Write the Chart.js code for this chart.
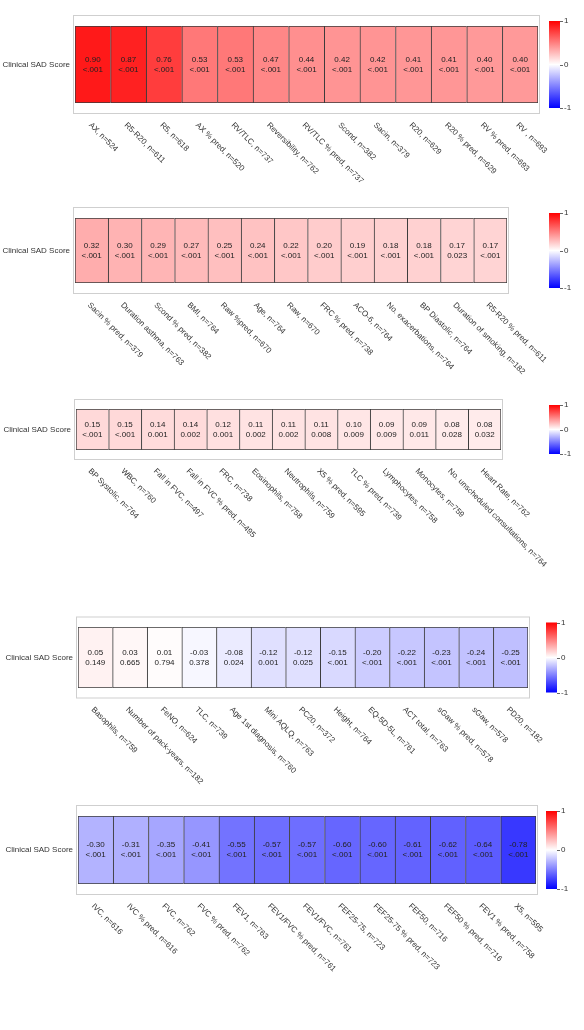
<!DOCTYPE html>
<html>
<head>
<meta charset="utf-8">
<script src="https://cdn.jsdelivr.net/npm/chart.js@4/dist/chart.umd.min.js"></script>
<style>
  html, body { margin: 0; padding: 0; background: #ffffff; }
  #wrap { position: relative; width: 584px; height: 1030px; overflow: hidden; }
  canvas { position: absolute; left: 0; }
</style>
</head>
<body>
<div id="wrap">
  <canvas id="c1" width="584" height="200" style="top:0px"></canvas>
  <canvas id="c2" width="584" height="190" style="top:200px"></canvas>
  <canvas id="c3" width="584" height="210" style="top:390px"></canvas>
  <canvas id="c4" width="584" height="200" style="top:600px"></canvas>
  <canvas id="c5" width="584" height="230" style="top:800px"></canvas>
</div>
<script>
// ---------------- DATA ----------------
const rowLabel = "Clinical SAD Score";
const colorbarTicks = [1, 0, -1];

const p1Labels = ["AX, n=524", "R5-R20, n=611", "R5, n=618", "AX % pred, n=520", "RV/TLC, n=737", "Reversibility, n=762", "RV/TLC % pred, n=737", "Scond, n=382", "Sacin, n=379", "R20, n=629", "R20 % pred, n=629", "RV % pred, n=693", "RV , n=693"];
const p1Values = [0.90, 0.87, 0.76, 0.53, 0.53, 0.47, 0.44, 0.42, 0.42, 0.41, 0.41, 0.40, 0.40];
const p1P = ["<.001", "<.001", "<.001", "<.001", "<.001", "<.001", "<.001", "<.001", "<.001", "<.001", "<.001", "<.001", "<.001"];

const p2Labels = ["Sacin % pred, n=379", "Duration asthma, n=763", "Scond % pred, n=382", "BMI, n=764", "Raw %pred, n=670", "Age, n=764", "Raw, n=670", "FRC % pred, n=738", "ACO-6, n=764", "No. exacerbations, n=764", "BP Diastolic, n=764", "Duration of smoking, n=182", "R5-R20 % pred, n=611"];
const p2Values = [0.32, 0.30, 0.29, 0.27, 0.25, 0.24, 0.22, 0.20, 0.19, 0.18, 0.18, 0.17, 0.17];
const p2P = ["<.001", "<.001", "<.001", "<.001", "<.001", "<.001", "<.001", "<.001", "<.001", "<.001", "<.001", "0.023", "<.001"];

const p3Labels = ["BP Systolic, n=764", "WBC, n=760", "Fall in FVC, n=497", "Fall in FVC % pred, n=495", "FRC, n=738", "Eosinophils, n=758", "Neutrophils, n=759", "X5 % pred, n=595", "TLC % pred, n=739", "Lymphocytes, n=758", "Monocytes, n=759", "No. unscheduled consultations, n=764", "Heart Rate, n=762"];
const p3Values = [0.15, 0.15, 0.14, 0.14, 0.12, 0.11, 0.11, 0.11, 0.10, 0.09, 0.09, 0.08, 0.08];
const p3P = ["<.001", "<.001", "0.001", "0.002", "0.001", "0.002", "0.002", "0.008", "0.009", "0.009", "0.011", "0.028", "0.032"];

const p4Labels = ["Basophils, n=759", "Number of pack-years, n=182", "FeNO, n=624", "TLC, n=739", "Age 1st diagnosis, n=760", "Mini AQLQ, n=763", "PC20, n=372", "Height, n=764", "EQ-5D-5L, n=761", "ACT total, n=763", "sGaw % pred, n=578", "sGaw, n=578", "PD20, n=182"];
const p4Values = [0.05, 0.03, 0.01, -0.03, -0.08, -0.12, -0.12, -0.15, -0.20, -0.22, -0.23, -0.24, -0.25];
const p4P = ["0.149", "0.665", "0.794", "0.378", "0.024", "0.001", "0.025", "<.001", "<.001", "<.001", "<.001", "<.001", "<.001"];

const p5Labels = ["IVC, n=616", "IVC % pred, n=616", "FVC, n=762", "FVC % pred, n=762", "FEV1, n=763", "FEV1/FVC % pred, n=761", "FEV1/FVC, n=761", "FEF25-75, n=723", "FEF25-75 % pred, n=723", "FEF50, n=716", "FEF50 % pred, n=716", "FEV1 % pred, n=758", "X5, n=595"];
const p5Values = [-0.30, -0.31, -0.35, -0.41, -0.55, -0.57, -0.57, -0.60, -0.60, -0.61, -0.62, -0.64, -0.78];
const p5P = ["<.001", "<.001", "<.001", "<.001", "<.001", "<.001", "<.001", "<.001", "<.001", "<.001", "<.001", "<.001", "<.001"];

// ---------------- LAYOUT (canvas-local pixel geometry) ----------------
const panels = [
  { id: "c1", labels: p1Labels, values: p1Values, p: p1P, h: 200, left: 75, right: 538, top: 26, bottom: 103, padV: 11, cbX: 549 },
  { id: "c2", labels: p2Labels, values: p2Values, p: p2P, h: 190, left: 75, right: 507, top: 18, bottom: 83, padV: 11, cbX: 549 },
  { id: "c3", labels: p3Labels, values: p3Values, p: p3P, h: 210, left: 76, right: 501, top: 19, bottom: 60, padV: 10, cbX: 549 },
  { id: "c4", labels: p4Labels, values: p4Values, p: p4P, h: 200, left: 78, right: 528, top: 27, bottom: 88, padV: 10.5, cbX: 546 },
  { id: "c5", labels: p5Labels, values: p5Values, p: p5P, h: 230, left: 78, right: 536, top: 16, bottom: 84, padV: 11, cbX: 546 }
];

const FONT = '8px "Liberation Sans", Arial, sans-serif';

function heat(v) {
  if (v >= 0) {
    const c = Math.round(255 * (1 - v));
    return `rgb(255,${c},${c})`;
  }
  const c = Math.round(255 * (1 + v));
  return `rgb(${c},${c},255)`;
}

const heatPlugin = {
  id: "heatDecor",
  beforeDatasetsDraw(chart) {
    const cfg = chart.config.options.plugins.heatDecor;
    const ca = chart.chartArea;
    const ctx = chart.ctx;
    ctx.save();
    ctx.strokeStyle = "#cfcfcf";
    ctx.lineWidth = 1;
    ctx.strokeRect(ca.left - 1.5, ca.top - cfg.padV + 0.5, ca.right - ca.left + 3, ca.bottom - ca.top + 2 * cfg.padV - 1);
    ctx.restore();
  },
  afterDatasetsDraw(chart) {
    const cfg = chart.config.options.plugins.heatDecor;
    const ctx = chart.ctx;
    const meta = chart.getDatasetMeta(0);
    ctx.save();
    ctx.font = FONT;
    ctx.fillStyle = "#222";
    ctx.textAlign = "center";
    ctx.textBaseline = "middle";
    meta.data.forEach((el, i) => {
      const cy = (el.y + el.base) / 2;
      ctx.fillText(cfg.values[i].toFixed(2), el.x, cy - 5);
      ctx.fillText(cfg.p[i], el.x, cy + 5);
    });
    ctx.restore();
  },
  afterDraw(chart) {
    const cfg = chart.config.options.plugins.heatDecor;
    const ctx = chart.ctx;
    const ca = chart.chartArea;
    const xs = chart.scales.x;
    const frameTop = ca.top - cfg.padV;
    const frameBottom = ca.bottom + cfg.padV;
    ctx.save();
    // row label
    ctx.font = FONT;
    ctx.fillStyle = "#333";
    ctx.textAlign = "right";
    ctx.textBaseline = "middle";
    ctx.fillText(rowLabel, ca.left - 5, (ca.top + ca.bottom) / 2);
    // rotated category labels
    ctx.textAlign = "left";
    ctx.textBaseline = "top";
    chart.data.labels.forEach((lab, i) => {
      const x = xs.getPixelForValue(i);
      ctx.save();
      ctx.translate(x, frameBottom + 7);
      ctx.rotate(Math.PI / 4);
      ctx.fillText(lab, 0, 0);
      ctx.restore();
    });
    // colorbar
    const cbTop = frameTop + 6, cbBot = frameBottom - 6, cbW = 11;
    const g = ctx.createLinearGradient(0, cbTop, 0, cbBot);
    g.addColorStop(0, "rgb(255,0,0)");
    g.addColorStop(0.5, "rgb(255,255,255)");
    g.addColorStop(1, "rgb(0,0,255)");
    ctx.fillStyle = g;
    ctx.fillRect(cfg.cbX, cbTop, cbW, cbBot - cbTop);
    ctx.strokeStyle = "#666";
    ctx.fillStyle = "#333";
    ctx.textAlign = "left";
    ctx.textBaseline = "middle";
    colorbarTicks.forEach(t => {
      const y = cbTop + (1 - t) / 2 * (cbBot - cbTop);
      ctx.beginPath();
      ctx.moveTo(cfg.cbX + cbW, Math.round(y) + 0.5);
      ctx.lineTo(cfg.cbX + cbW + 3, Math.round(y) + 0.5);
      ctx.stroke();
      ctx.fillText(String(t), cfg.cbX + cbW + 4, y);
    });
    ctx.restore();
  }
};

panels.forEach(pn => {
  const n = pn.labels.length;
  const last = n - 1;
  new Chart(document.getElementById(pn.id), {
    type: "bar",
    data: {
      labels: pn.labels,
      datasets: [{
        data: pn.values.map(() => [0, 1]),
        backgroundColor: c => heat(pn.values[c.dataIndex]),
        borderColor: "#3a3a3a",
        borderWidth: c => ({ top: 1, bottom: 1, left: 1, right: c.dataIndex === last ? 1 : 0 }),
        borderSkipped: false,
        barPercentage: 1,
        categoryPercentage: 1
      }]
    },
    options: {
      responsive: false,
      animation: false,
      devicePixelRatio: 1,
      layout: { padding: { left: pn.left, right: 584 - pn.right, top: pn.top, bottom: pn.h - pn.bottom } },
      plugins: {
        legend: { display: false },
        tooltip: { enabled: false },
        heatDecor: { values: pn.values, p: pn.p, padV: pn.padV, cbX: pn.cbX }
      },
      scales: {
        x: { display: false, offset: true, grid: { display: false } },
        y: { display: false, min: 0, max: 1, grid: { display: false } }
      }
    },
    plugins: [heatPlugin]
  });
});
</script>
</body>
</html>
